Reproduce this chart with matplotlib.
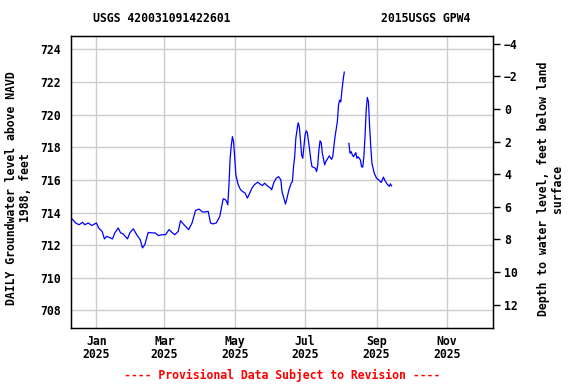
import numpy as np
import pandas as pd
import matplotlib
matplotlib.use("Agg")
import matplotlib.pyplot as plt
import matplotlib.dates as mdates

site_title = "USGS 420031091422601"
well_name = "2015USGS GPW4"
land_surface = 720.35  # feet above NAVD 1988

# daily groundwater level, feet above NAVD 1988
dates = [
    "2024-12-11", "2024-12-14", "2024-12-17", "2024-12-20", "2024-12-22", "2024-12-25",
    "2024-12-28", "2025-01-01", "2025-01-03", "2025-01-06", "2025-01-08", "2025-01-10",
    "2025-01-13", "2025-01-15", "2025-01-17", "2025-01-20", "2025-01-22", "2025-01-24",
    "2025-01-28", "2025-01-30", "2025-02-02", "2025-02-05", "2025-02-08", "2025-02-10",
    "2025-02-12", "2025-02-15", "2025-02-18", "2025-02-21", "2025-02-24", "2025-02-27",
    "2025-03-02", "2025-03-05", "2025-03-08", "2025-03-10", "2025-03-13", "2025-03-15",
    "2025-03-18", "2025-03-22", "2025-03-25", "2025-03-28", "2025-03-31", "2025-04-03",
    "2025-04-05", "2025-04-08", "2025-04-10", "2025-04-12", "2025-04-15", "2025-04-18",
    "2025-04-20", "2025-04-21", "2025-04-23", "2025-04-24", "2025-04-25", "2025-04-26",
    "2025-04-27", "2025-04-28", "2025-04-29", "2025-04-30", "2025-05-01", "2025-05-02",
    "2025-05-04", "2025-05-06", "2025-05-08", "2025-05-10", "2025-05-12", "2025-05-14",
    "2025-05-16", "2025-05-18", "2025-05-21", "2025-05-23", "2025-05-25", "2025-05-27",
    "2025-05-29", "2025-06-01", "2025-06-02", "2025-06-04", "2025-06-06", "2025-06-08",
    "2025-06-10", "2025-06-11", "2025-06-14", "2025-06-15", "2025-06-17", "2025-06-19",
    "2025-06-20", "2025-06-21", "2025-06-22", "2025-06-23", "2025-06-24", "2025-06-25",
    "2025-06-26", "2025-06-27", "2025-06-28", "2025-06-29", "2025-06-30", "2025-07-01",
    "2025-07-02", "2025-07-03", "2025-07-05", "2025-07-06", "2025-07-07", "2025-07-08",
    "2025-07-10", "2025-07-11", "2025-07-12", "2025-07-13", "2025-07-14", "2025-07-15",
    "2025-07-16", "2025-07-18", "2025-07-19", "2025-07-21", "2025-07-22", "2025-07-24",
    "2025-07-25", "2025-07-26", "2025-07-27", "2025-07-29", "2025-07-30", "2025-07-31",
    "2025-08-01", "2025-08-02", "2025-08-03", "2025-08-04", "2025-08-06", "2025-08-08",
    "2025-08-09", "2025-08-10", "2025-08-11", "2025-08-12", "2025-08-14", "2025-08-15",
    "2025-08-16", "2025-08-18", "2025-08-19", "2025-08-20", "2025-08-21", "2025-08-22",
    "2025-08-23", "2025-08-24", "2025-08-25", "2025-08-26", "2025-08-27", "2025-08-28",
    "2025-08-30", "2025-09-01", "2025-09-03", "2025-09-05", "2025-09-07", "2025-09-08",
    "2025-09-10", "2025-09-12", "2025-09-13", "2025-09-14",
]
levels = [
    713.60, 713.36, 713.25, 713.40, 713.25, 713.36,
    713.20, 713.36, 713.05, 712.84, 712.38, 712.54,
    712.44, 712.38, 712.75, 713.05, 712.75, 712.70,
    712.38, 712.75, 713.00, 712.64, 712.34, 711.83,
    712.03, 712.78, 712.75, 712.75, 712.58, 712.64,
    712.64, 712.95, 712.75, 712.64, 712.84, 713.50,
    713.25, 712.95, 713.36, 714.13, 714.21, 714.03,
    714.03, 714.07, 713.36, 713.30, 713.36, 713.76,
    714.50, 714.84, 714.78, 714.67, 714.47, 715.70,
    717.30, 718.10, 718.65, 718.34, 717.30, 716.30,
    715.70, 715.40, 715.28, 715.19, 714.88, 715.19,
    715.50, 715.70, 715.86, 715.74, 715.65, 715.80,
    715.65, 715.50, 715.39, 715.86, 716.10, 716.20,
    716.00, 715.28, 714.52, 714.78, 715.39, 715.80,
    715.90, 716.81, 717.42, 718.55, 719.05, 719.50,
    719.26, 718.44, 717.53, 717.32, 718.03, 718.75,
    719.01, 718.89, 717.83, 717.22, 716.81, 716.78,
    716.71, 716.51, 716.92, 717.83, 718.40, 718.28,
    717.63, 716.92, 717.12, 717.36, 717.47, 717.26,
    717.42, 718.03, 718.65, 719.56, 720.58, 720.89,
    720.78, 721.50, 722.10, 722.61, np.nan, 718.24,
    717.63, 717.73, 717.53, 717.42, 717.67, 717.32,
    717.42, 717.22, 716.81, 716.78, 717.42, 718.65,
    720.27, 721.05, 720.78, 719.26, 718.03, 717.02,
    716.41, 716.10, 716.00, 715.84, 716.17, 716.00,
    715.76, 715.60, 715.76, 715.63,
]
month_ticks = ["2025-01-01", "2025-03-01", "2025-05-01", "2025-07-01", "2025-09-01", "2025-11-01"]
left_ticks = [708, 710, 712, 714, 716, 718, 720, 722, 724]
right_ticks = [-4, -2, 0, 2, 4, 6, 8, 10, 12]

plt.rcParams['font.family'] = ['DejaVu Sans Mono']
plt.rcParams['font.weight'] = 'bold'
plt.rcParams['font.size'] = 8.3

fig = plt.figure(figsize=(5.76, 3.84), dpi=100)
ax = fig.add_axes([71/576, 1 - 328/384, 422/576, 292/384])

t = pd.to_datetime(dates)
ax.plot(t, levels, color="#0000ff", lw=0.9)

ylo, yhi = 706.92, 724.82
ax.set_ylim(ylo, yhi)
ax.set_xlim(pd.Timestamp("2024-12-10"), pd.Timestamp("2025-12-11"))
ax.set_yticks(left_ticks)
ax.set_xticks(pd.to_datetime(month_ticks))
ax.xaxis.set_major_formatter(mdates.DateFormatter("%b\n%Y"))
ax.tick_params(axis="x", length=0, pad=5)
ax.tick_params(axis="y", length=0, pad=7)
for lab in ax.get_xticklabels():
    lab.set_linespacing(1.05)
ax.grid(True, color="#cccccc", lw=1)
ax.set_axisbelow(True)
for s in ax.spines.values():
    s.set_color("black")
    s.set_linewidth(1)

ax2 = ax.twinx()
ax2.set_ylim(land_surface - ylo, land_surface - yhi)
ax2.set_yticks(right_ticks)
ax2.tick_params(axis="y", length=5, width=1, pad=3)

fig.text(93/576, 1 - 19/384, site_title, ha="left", va="center")
fig.text(381/576, 1 - 19/384, well_name, ha="left", va="center")
fig.text(19/576, 1 - 188/384, "DAILY Groundwater level above NAVD\n1988, feet",
         rotation=90, ha="center", va="center", multialignment="center", linespacing=1.1)
fig.text(551/576, 1 - 189/384, "Depth to water level, feet below land\nsurface",
         rotation=90, ha="center", va="center", multialignment="center", linespacing=1.1)
fig.text(282/576, 1 - 375/384, "---- Provisional Data Subject to Revision ----",
         ha="center", va="center", color="red")

fig.savefig("out.png", dpi=100)
